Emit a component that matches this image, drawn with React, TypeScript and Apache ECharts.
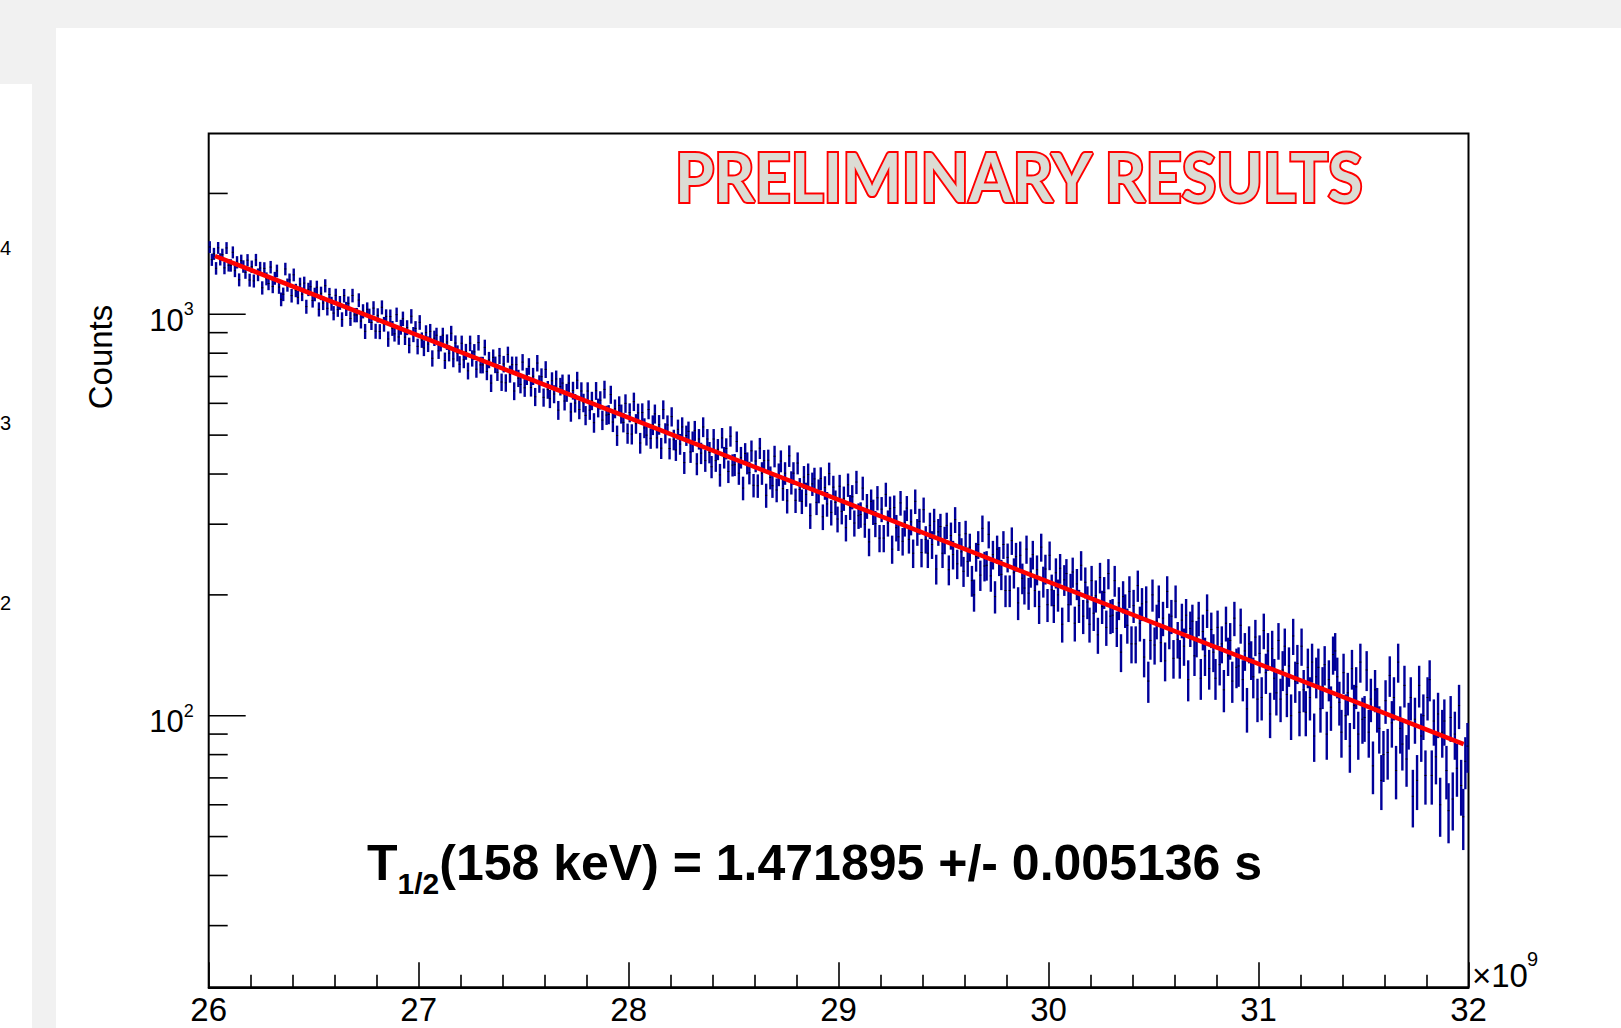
import React, { useEffect, useRef } from 'react';
import * as echarts from 'echarts';

// x axis (units of 10^9), histogram binning
const xMin = 26;
const xMax = 32;
const binWidth = 0.01;

// y axis (log)
const yMin = 21.06;
const yMax = 2819;
const yMinorTicks = [30, 40, 50, 60, 70, 80, 90, 200, 300, 400, 500, 600, 700, 800, 900, 2000];
const yMajorTicks = [100, 1000];
const yMajorExp = ['2', '3'];

// error bars drawn larger than bare Poisson, as in the picture
const errScale = 1.3;

// counts per bin (600 bins of 0.01 x10^9)
const counts = [
  1471, 1368, 1415, 1302, 1464, 1371, 1408, 1305, 1463, 1325,
  1324, 1427, 1284, 1348, 1219, 1360, 1316, 1272, 1364, 1217,
  1314, 1211, 1366, 1255, 1304, 1164, 1301, 1226, 1193, 1311,
  1173, 1230, 1283, 1169, 1090, 1122, 1297, 1183, 1218, 1113,
  1254, 1147, 1102, 1189, 1122, 1196, 1045, 1154, 1171, 1082,
  1121, 1168, 1029, 1128, 1067, 1178, 1035, 1120, 1063, 1007,
  1115, 1027, 1068, 971, 1113, 1032, 1065, 976, 1114, 996,
  996, 1085, 962, 1018, 907, 1029, 992, 954, 1036, 908,
  994, 906, 1041, 945, 988, 868, 987, 923, 894, 998,
  878, 929, 975, 877, 927, 837, 989, 891, 922, 832,
  955, 863, 824, 900, 843, 907, 777, 872, 887, 811,
  846, 887, 767, 853, 800, 897, 774, 848, 800, 751,
  847, 770, 807, 723, 847, 777, 806, 730, 850, 748,
  748, 827, 720, 770, 674, 781, 749, 717, 788, 678,
  752, 675, 794, 710, 749, 644, 749, 693, 669, 760,
  656, 701, 742, 657, 701, 623, 756, 671, 699, 621,
  729, 649, 616, 683, 633, 690, 577, 661, 674, 608,
  638, 674, 571, 646, 601, 685, 579, 644, 602, 560,
  644, 577, 609, 537, 645, 585, 611, 545, 650, 561,
  563, 631, 539, 582, 499, 593, 565, 538, 600, 505,
  569, 503, 606, 534, 568, 478, 569, 521, 500, 579,
  491, 530, 565, 492, 531, 464, 579, 506, 530, 463,
  556, 487, 459, 517, 475, 524, 427, 499, 511, 454,
  482, 513, 424, 489, 451, 524, 432, 489, 453, 417,
  489, 432, 461, 398, 492, 440, 463, 406, 497, 421,
  422, 482, 402, 440, 369, 450, 426, 403, 457, 375,
  431, 374, 464, 402, 432, 354, 433, 392, 374, 443,
  365, 399, 431, 368, 402, 343, 444, 381, 402, 344,
  426, 366, 342, 393, 356, 399, 315, 378, 389, 340,
  363, 390, 313, 370, 337, 401, 321, 371, 340, 309,
  373, 323, 348, 294, 376, 331, 351, 302, 382, 315,
  317, 369, 300, 333, 271, 342, 322, 301, 349, 277,
  327, 277, 356, 302, 328, 260, 330, 294, 279, 339,
  272, 302, 329, 275, 304, 254, 342, 287, 305, 255,
  326, 275, 254, 298, 267, 305, 232, 287, 296, 254,
  274, 298, 231, 281, 252, 308, 239, 282, 256, 229,
  284, 242, 263, 217, 200, 249, 267, 224, 293, 236,
  237, 283, 223, 252, 198, 260, 243, 225, 267, 205,
  248, 205, 273, 227, 249, 191, 251, 220, 208, 260,
  202, 228, 252, 205, 231, 187, 263, 216, 232, 189,
  251, 206, 188, 227, 200, 233, 169, 218, 226, 189,
  207, 228, 170, 213, 188, 237, 177, 215, 192, 169,
  217, 180, 199, 159, 221, 187, 203, 166, 226, 177,
  178, 217, 165, 191, 144, 198, 183, 168, 204, 151,
  188, 151, 211, 170, 190, 140, 192, 122, 154, 200,
  150, 172, 193, 152, 175, 137, 204, 163, 177, 139,
  193, 155, 139, 173, 149, 178, 123, 165, 172, 141,
  156, 175, 124, 162, 141, 183, 131, 164, 144, 124,
  166, 134, 151, 116, 170, 141, 154, 122, 175, 132,
  133, 168, 123, 145, 104, 151, 138, 125, 157, 110,
  143, 111, 163, 128, 145, 101, 147, 124, 114, 154,
  110, 130, 149, 113, 133, 100, 158, 122, 135, 102,
  149, 116, 102, 132, 111, 136, 89, 125, 132, 104,
  118, 134, 90, 123, 105, 142, 145, 125, 108, 91,
  128, 100, 114, 84, 131, 106, 118, 90, 136, 98,
  99, 130, 91, 110, 75, 116, 104, 93, 69, 80,
  109, 81, 126, 96, 111, 73, 136, 93, 85, 119,
  78, 95, 111, 63, 98, 69, 119, 89, 100, 71,
  111, 123, 71, 97, 79, 101, 60, 91, 97, 73,
  58, 99, 62, 90, 74, 106, 67, 56, 77, 84,
];

// exponential fit (straight on log axis): end points
const fitX = [26.03, 31.977];
const fitY = [1397, 85];

// neighbouring panel's clipped exponent labels
const leftPanelLabels = ['4', '3', '2'];

const titleText = 'PRELIMINARY RESULTS';
const resultMain = '(158 keV) = 1.471895 +/- 0.005136 s';

export default function App() {
  const ref = useRef<HTMLDivElement>(null);

  useEffect(() => {
    const chart = echarts.init(ref.current!, null, { renderer: 'svg' });

    const points = counts.map((c, i) => [xMin + binWidth * (i + 0.5), c]);
    const fitData = fitX.map((x, i) => [x, fitY[i]]);

    const prelimStyle = { fontSize: 67, fontWeight: 'bold', fontFamily: 'Lato' };
    const measured = new (echarts.graphic as any).Text({
      style: { text: titleText, ...prelimStyle },
    }).getBoundingRect().width;
    const prelimScale = measured > 0 ? 690 / measured : 1;

    const leftY = [248, 422.5, 602.5];

    const option: any = {
      animation: false,
      grid: {
        left: 208.7,
        right: 152.5,
        top: 133.6,
        bottom: 40.7,
        show: true,
        borderColor: '#000',
        borderWidth: 2,
        containLabel: false,
        outerBoundsMode: 'none',
      },
      xAxis: {
        type: 'value',
        min: xMin,
        max: xMax,
        interval: 1,
        axisLine: { show: true, onZero: false, lineStyle: { color: '#000', width: 2 } },
        axisTick: { show: true, inside: true, length: 25, lineStyle: { color: '#000', width: 1.6 } },
        minorTick: { show: true, splitNumber: 5, length: 12.5, lineStyle: { color: '#000', width: 1.6 } },
        axisLabel: { color: '#000', fontSize: 33, fontFamily: 'Liberation Sans', margin: 6 },
        splitLine: { show: false },
        minorSplitLine: { show: false },
      },
      yAxis: {
        type: 'log',
        logBase: 10,
        min: yMin,
        max: yMax,
        axisLine: { show: false },
        axisTick: { show: false },
        axisLabel: { show: false },
        splitLine: { show: false },
      },
      series: [
        {
          type: 'custom',
          name: 'data',
          data: points,
          encode: { x: 0, y: 1 },
          z: 2,
          renderItem: (params: any, api: any) => {
            const x = api.value(0);
            const y = api.value(1);
            const e = errScale * Math.sqrt(y);
            const p1 = api.coord([x, y + e]);
            const p2 = api.coord([x, y - e]);
            const l = api.coord([x - 0.005, y]);
            const r = api.coord([x + 0.005, y]);
            return {
              type: 'group',
              children: [
                {
                  type: 'line',
                  shape: { x1: p1[0], y1: p1[1], x2: p2[0], y2: p2[1] },
                  style: { stroke: '#000099', lineWidth: 2.4 },
                },
                {
                  type: 'line',
                  shape: { x1: l[0], y1: l[1], x2: r[0], y2: r[1] },
                  style: { stroke: '#000', lineWidth: 1 },
                },
              ],
            };
          },
        },
        {
          type: 'line',
          name: 'fit',
          data: fitData,
          showSymbol: false,
          symbol: 'none',
          z: 5,
          lineStyle: { color: '#ff0000', width: 4.5 },
        },
        {
          type: 'custom',
          name: 'yminor',
          data: yMinorTicks.map((v) => [xMin, v]),
          encode: { x: 0, y: 1 },
          z: 6,
          renderItem: (params: any, api: any) => {
            const p = api.coord([api.value(0), api.value(1)]);
            return {
              type: 'line',
              shape: { x1: p[0], y1: p[1], x2: p[0] + 19, y2: p[1] },
              style: { stroke: '#000', lineWidth: 1.6 },
            };
          },
        },
        {
          type: 'custom',
          name: 'ymajor',
          data: yMajorTicks.map((v) => [xMin, v]),
          encode: { x: 0, y: 1 },
          z: 6,
          renderItem: (params: any, api: any) => {
            const p = api.coord([api.value(0), api.value(1)]);
            return {
              type: 'group',
              children: [
                {
                  type: 'line',
                  shape: { x1: p[0], y1: p[1], x2: p[0] + 37, y2: p[1] },
                  style: { stroke: '#000', lineWidth: 1.6 },
                },
                {
                  type: 'text',
                  x: p[0] - 25,
                  y: p[1] + 6,
                  style: {
                    text: '10',
                    fontSize: 31,
                    fontFamily: 'Liberation Sans',
                    fill: '#000',
                    align: 'right',
                    verticalAlign: 'middle',
                  },
                },
                {
                  type: 'text',
                  x: p[0] - 25,
                  y: p[1] - 5,
                  style: {
                    text: yMajorExp[params.dataIndex],
                    fontSize: 18,
                    fontFamily: 'Liberation Sans',
                    fill: '#000',
                    align: 'left',
                    verticalAlign: 'middle',
                  },
                },
              ],
            };
          },
        },
      ],
      graphic: {
        elements: [
          ...leftPanelLabels.map((t, i) => ({
            type: 'text',
            x: 11,
            y: leftY[i],
            style: {
              text: t,
              fontSize: 20,
              fontFamily: 'Liberation Sans',
              fill: '#000',
              align: 'right',
              verticalAlign: 'middle',
            },
          })),
          {
            type: 'text',
            x: 100,
            y: 357,
            rotation: Math.PI / 2,
            style: {
              text: 'Counts',
              fontSize: 33,
              fontFamily: 'Liberation Sans',
              fill: '#000',
              align: 'center',
              verticalAlign: 'middle',
            },
          },
          {
            type: 'text',
            x: 1472,
            y: 975,
            style: {
              text: '×10',
              fontSize: 33,
              fontFamily: 'Liberation Sans',
              fill: '#000',
              align: 'left',
              verticalAlign: 'middle',
            },
          },
          {
            type: 'text',
            x: 1527,
            y: 959,
            style: {
              text: '9',
              fontSize: 20,
              fontFamily: 'Liberation Sans',
              fill: '#000',
              align: 'left',
              verticalAlign: 'middle',
            },
          },
          {
            type: 'text',
            x: 367,
            y: 828,
            style: {
              text: '{m|T}{s|1/2}{m|' + resultMain + '}',
              align: 'left',
              verticalAlign: 'top',
              fill: '#000',
              rich: {
                m: {
                  fontSize: 50,
                  fontWeight: 'bold',
                  fontFamily: 'Liberation Sans',
                  lineHeight: 70,
                  verticalAlign: 'middle',
                  fill: '#000',
                },
                s: {
                  fontSize: 30,
                  fontWeight: 'bold',
                  fontFamily: 'Liberation Sans',
                  lineHeight: 30,
                  verticalAlign: 'bottom',
                  fill: '#000',
                },
              },
            },
          },
          {
            type: 'text',
            x: 675,
            y: 176,
            scaleX: prelimScale,
            z: 10,
            style: {
              text: titleText,
              ...prelimStyle,
              fill: '#dcdcd4',
              stroke: '#ff0000',
              lineWidth: 4,
              align: 'left',
              verticalAlign: 'middle',
            },
          },
        ],
      },
    };

    chart.setOption(option);
    return () => chart.dispose();
  }, []);

  return (
    <div
      style={{
        position: 'fixed',
        left: 0,
        top: 0,
        width: 1621,
        height: 1028,
        background: '#f1f1f1',
        overflow: 'hidden',
      }}
    >
      <div style={{ position: 'absolute', left: 0, top: 84, width: 32, height: 944, background: '#ffffff' }} />
      <div style={{ position: 'absolute', left: 56, top: 28, width: 1565, height: 1000, background: '#ffffff' }} />
      <div ref={ref} style={{ position: 'absolute', left: 0, top: 0, width: 1621, height: 1028 }} />
    </div>
  );
}
